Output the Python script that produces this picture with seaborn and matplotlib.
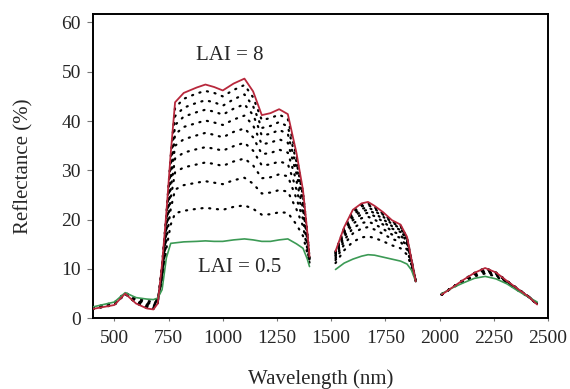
import matplotlib
matplotlib.use("Agg")
import matplotlib.pyplot as plt
import seaborn as sns
import pandas as pd

# ---- data ----
wl_nir = [400, 450, 500, 550, 600, 650, 680, 700, 720, 740, 760, 780, 820, 880, 920,
          960, 1000, 1050, 1100, 1140, 1180, 1220, 1260, 1300, 1340, 1370, 1390, 1400]
wl_swir1 = [1520, 1560, 1600, 1640, 1670, 1700, 1740, 1780, 1820, 1850, 1870, 1890]
wl_swir2 = [2010, 2060, 2110, 2160, 2210, 2260, 2310, 2360, 2410, 2450]

lai_0_5 = [2.3, 2.8, 3.3, 5.2, 4.2, 3.9, 3.8, 4.1, 5.8, 12.3, 15.2, 15.3, 15.5, 15.6, 15.7, 15.6, 15.6, 15.9, 16.1, 15.9, 15.6, 15.6, 15.9, 16.1, 15.1, 14.2, 12.0, 10.5,
           9.9, 11.2, 12.0, 12.6, 12.9, 12.8, 12.4, 12.0, 11.6, 11.0, 9.8, 7.5,
           5.0, 6.2, 7.2, 8.1, 8.5, 8.0, 7.0, 5.6, 4.3, 3.3]
lai_1 = [2.2, 2.7, 3.2, 5.2, 4.0, 3.5, 3.4, 3.9, 6.9, 14.2, 19.0, 21.3, 21.8, 22.2, 22.4, 22.2, 22.0, 22.6, 22.9, 22.2, 21.0, 21.1, 21.5, 21.4, 19.0, 16.7, 13.2, 10.9,
         11.2, 13.8, 15.5, 16.4, 16.6, 16.3, 15.6, 14.8, 14.2, 12.9, 10.6, 7.5,
         4.9, 6.2, 7.4, 8.5, 9.1, 8.5, 7.2, 5.7, 4.3, 3.1]
lai_1_5 = [2.2, 2.6, 3.1, 5.1, 3.7, 3.2, 3.0, 3.7, 7.8, 15.8, 22.2, 26.1, 27.0, 27.5, 27.8, 27.5, 27.2, 28.0, 28.5, 27.3, 25.3, 25.5, 26.0, 25.7, 22.1, 18.7, 14.1, 11.3,
           11.8, 15.0, 17.2, 18.2, 18.5, 18.0, 17.1, 16.1, 15.5, 13.9, 10.9, 7.5,
           4.9, 6.3, 7.5, 8.7, 9.4, 8.7, 7.3, 5.8, 4.4, 3.0]
lai_2 = [2.1, 2.6, 3.0, 5.1, 3.6, 3.0, 2.8, 3.6, 8.4, 16.9, 24.4, 29.6, 30.6, 31.2, 31.6, 31.3, 30.9, 31.8, 32.4, 31.0, 28.4, 28.6, 29.2, 28.8, 24.3, 20.1, 14.8, 11.5,
         12.2, 15.8, 18.3, 19.3, 19.6, 19.1, 18.1, 17.0, 16.3, 14.5, 11.2, 7.5,
         4.9, 6.3, 7.6, 8.8, 9.6, 8.8, 7.4, 5.9, 4.4, 3.0]
lai_2_5 = [2.1, 2.5, 2.9, 5.1, 3.5, 2.8, 2.6, 3.4, 8.9, 17.8, 26.2, 32.4, 33.6, 34.3, 34.7, 34.4, 34.0, 34.9, 35.6, 34.0, 31.0, 31.2, 31.8, 31.3, 26.1, 21.3, 15.3, 11.7,
           12.6, 16.5, 19.2, 20.3, 20.6, 20.0, 19.0, 17.7, 16.9, 15.0, 11.4, 7.5,
           4.9, 6.3, 7.6, 8.9, 9.7, 8.9, 7.4, 5.9, 4.4, 2.9]
lai_3 = [2.0, 2.5, 2.9, 5.1, 3.4, 2.6, 2.4, 3.3, 9.4, 18.7, 27.8, 35.0, 36.3, 37.1, 37.6, 37.2, 36.7, 37.8, 38.5, 36.7, 33.3, 33.5, 34.2, 33.6, 27.8, 22.3, 15.8, 11.9,
         12.8, 17.0, 19.9, 21.1, 21.4, 20.7, 19.6, 18.2, 17.5, 15.4, 11.5, 7.5,
         4.8, 6.3, 7.7, 9.0, 9.8, 9.0, 7.5, 5.9, 4.4, 2.9]
lai_4 = [2.0, 2.4, 2.8, 5.0, 3.3, 2.4, 2.3, 3.3, 9.8, 19.4, 29.3, 37.3, 38.8, 39.6, 40.1, 39.7, 39.2, 40.3, 41.1, 39.1, 35.3, 35.6, 36.3, 35.6, 29.3, 23.3, 16.2, 12.0,
         13.1, 17.4, 20.5, 21.7, 22.0, 21.3, 20.1, 18.7, 17.9, 15.7, 11.7, 7.5,
         4.8, 6.3, 7.7, 9.0, 10.0, 9.1, 7.5, 5.9, 4.4, 2.9]
lai_5 = [2.0, 2.4, 2.8, 5.0, 3.2, 2.3, 2.1, 3.2, 10.2, 20.0, 30.6, 39.2, 40.9, 41.8, 42.3, 41.9, 41.3, 42.5, 43.4, 41.2, 37.1, 37.4, 38.2, 37.4, 30.6, 24.1, 16.6, 12.2,
         13.2, 17.8, 21.0, 22.2, 22.5, 21.8, 20.6, 19.1, 18.3, 16.0, 11.8, 7.5,
         4.8, 6.3, 7.7, 9.1, 10.0, 9.2, 7.5, 6.0, 4.4, 2.9]
lai_6 = [1.9, 2.4, 2.8, 5.0, 3.1, 2.2, 2.0, 3.1, 10.5, 20.6, 31.7, 41.0, 42.7, 43.7, 44.2, 43.8, 43.1, 44.4, 45.4, 43.0, 38.6, 39.0, 39.8, 38.9, 31.7, 24.8, 17.0, 12.3,
         13.4, 18.1, 21.4, 22.7, 23.0, 22.2, 21.0, 19.4, 18.6, 16.2, 11.9, 7.5,
         4.8, 6.3, 7.8, 9.1, 10.1, 9.2, 7.6, 6.0, 4.4, 2.8]
lai_7 = [1.9, 2.3, 2.7, 5.0, 3.1, 2.1, 1.9, 3.0, 10.8, 21.1, 32.8, 42.7, 44.5, 45.6, 46.1, 45.7, 45.0, 46.3, 47.3, 44.8, 40.2, 40.6, 41.3, 40.4, 32.8, 25.5, 17.3, 12.4,
         13.5, 18.3, 21.7, 23.0, 23.3, 22.5, 21.2, 19.7, 18.8, 16.3, 11.9, 7.5,
         4.8, 6.3, 7.8, 9.2, 10.2, 9.3, 7.6, 6.0, 4.4, 2.8]
lai_8 = [1.9, 2.3, 2.7, 5.0, 3.0, 2.0, 1.8, 3.0, 11.0, 21.5, 33.5, 43.8, 45.7, 46.8, 47.4, 46.9, 46.2, 47.6, 48.6, 46.0, 41.2, 41.6, 42.4, 41.4, 33.5, 26.0, 17.5, 12.5,
         13.6, 18.5, 22.0, 23.3, 23.6, 22.8, 21.5, 19.9, 19.0, 16.5, 12.0, 7.5,
         4.8, 6.3, 7.8, 9.2, 10.2, 9.3, 7.6, 6.0, 4.4, 2.8]

lai_labels = ["0.5", "1", "1.5", "2", "2.5", "3", "4", "5", "6", "7", "8"]
series = [lai_0_5, lai_1, lai_1_5, lai_2, lai_2_5, lai_3, lai_4, lai_5, lai_6, lai_7, lai_8]
x_ticks = [500, 750, 1000, 1250, 1500, 1750, 2000, 2250, 2500]
y_ticks = [0, 10, 20, 30, 40, 50, 60]

# ---- long table ----
bands = ([("nir", w) for w in wl_nir] + [("swir1", w) for w in wl_swir1]
         + [("swir2", w) for w in wl_swir2])
rows = []
for lab, vals in zip(lai_labels, series):
    for (band, w), v in zip(bands, vals):
        rows.append({"LAI": lab, "band": band, "wavelength": w, "reflectance": v})
df = pd.DataFrame(rows)

# ---- plot ----
sns.set_style("ticks")
plt.rcParams["font.family"] = ["Liberation Serif", "DejaVu Serif"]

fig = plt.figure(figsize=(5.70, 3.89), dpi=100)
ax = fig.add_axes([0.1626, 0.1817, 0.7988, 0.7823])

for lab in lai_labels:
    sub = df[df["LAI"] == lab]
    for band in ["nir", "swir1", "swir2"]:
        seg = sub[sub["band"] == band]
        if lab == "8":
            kw = dict(color="#b8283c", lw=1.3, zorder=4, solid_joinstyle="round")
        elif lab == "0.5":
            kw = dict(color="#3c9a55", lw=1.2, zorder=3, solid_joinstyle="round")
        else:
            kw = dict(color="black", lw=1.6, linestyle=(0, (0.5, 3.0)),
                      dash_capstyle="round", zorder=2)
        sns.lineplot(data=seg, x="wavelength", y="reflectance", ax=ax,
                     estimator=None, sort=False, legend=False, **kw)

ax.set_xlim(400, 2500)
ax.set_ylim(0, 61.7)
ax.set_xticks(x_ticks)
ax.set_yticks(y_ticks)
ax.set_xticklabels([str(t) for t in x_ticks], fontsize=14)
ax.set_yticklabels([str(t) for t in y_ticks], fontsize=14)
ax.tick_params(axis="x", length=2.5, width=0.8, color="#777777", pad=6)
ax.tick_params(axis="y", length=4.5, width=0.8, color="#777777", pad=4)
for s in ax.spines.values():
    s.set_visible(True)
    s.set_linewidth(1.4)
    s.set_color("black")

ax.set_xlabel("Wavelength (nm)", fontsize=15, labelpad=16)
ax.set_ylabel("Reflectance (%)", fontsize=15, labelpad=20)

ax.text(1033, 53.3, "LAI = 8", fontsize=15, ha="center", va="center")
ax.text(1080, 10.3, "LAI = 0.5", fontsize=15, ha="center", va="center")

fig.savefig("out.png", dpi=100)
